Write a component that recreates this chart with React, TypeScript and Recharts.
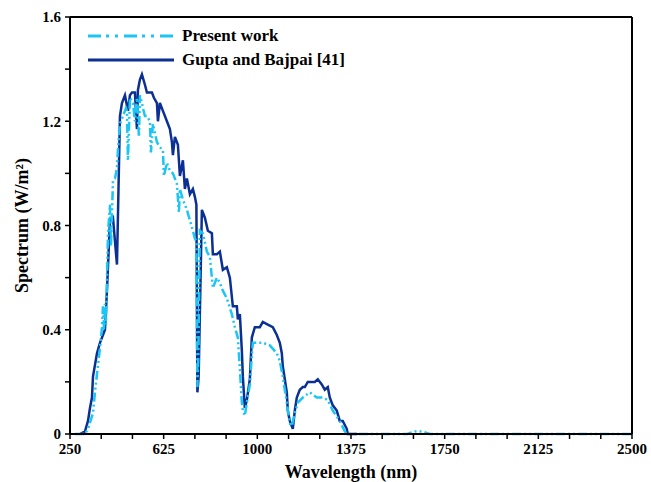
import React from 'react';
import {
  LineChart,
  Line,
  XAxis,
  YAxis,
  ReferenceLine,
} from 'recharts';

// wavelength (nm) / spectrum (W/m2)
const guptaNm = [
  290, 310, 322, 330, 338, 342, 358, 370, 390, 398, 410, 422, 430, 438, 442, 450,
  458, 470, 482, 490, 498, 510, 518, 522, 530, 538, 550, 558, 578, 586, 598, 602,
  610, 622, 638, 650, 658, 662, 670, 682, 690, 702, 710, 718, 730, 742, 750, 756,
  760, 765, 778, 790, 802, 818, 822, 838, 850, 862, 878, 890, 902, 918, 922, 930,
  938, 942, 950, 958, 970, 978, 990, 1002, 1010, 1022, 1042, 1062, 1078, 1090,
  1098, 1102, 1118, 1122, 1130, 1142, 1150, 1158, 1170, 1182, 1190, 1202, 1218,
  1230, 1242, 1258, 1270, 1282, 1290, 1302, 1318, 1330, 1342, 1358, 1362, 1400,
];
const guptaVal = [
  0, 0.01, 0.05, 0.1, 0.14, 0.22, 0.31, 0.35, 0.4, 0.55, 0.82, 0.83, 0.74, 0.65, 0.84, 1.22,
  1.27, 1.3, 1.24, 1.3, 1.31, 1.31, 1.17, 1.32, 1.36, 1.38, 1.34, 1.31, 1.31, 1.29, 1.27, 1.2,
  1.27, 1.24, 1.2, 1.17, 1.12, 1.07, 1.14, 1.11, 0.99, 1.05, 0.94, 0.98, 0.92, 0.94, 0.91, 0.88,
  0.16, 0.22, 0.86, 0.83, 0.78, 0.77, 0.69, 0.69, 0.7, 0.63, 0.64, 0.6, 0.49, 0.49, 0.44, 0.46,
  0.32, 0.22, 0.1, 0.13, 0.21, 0.37, 0.41, 0.41, 0.41, 0.43, 0.42, 0.41, 0.38, 0.35,
  0.31, 0.26, 0.16, 0.09, 0.05, 0.02, 0.09, 0.14, 0.17, 0.18, 0.18, 0.2, 0.2,
  0.2, 0.21, 0.19, 0.17, 0.18, 0.14, 0.11, 0.09, 0.05, 0.05, 0.02, 0, 0,
];

const presentNm = [
  270, 310, 322, 342, 350, 358, 370, 378, 382, 386, 390, 394, 398, 402, 410, 414,
  422, 430, 438, 442, 450, 462, 474, 478, 482, 490, 502, 510, 518, 526, 530, 538,
  542, 550, 558, 570, 574, 582, 598, 610, 622, 626, 638, 650, 662, 678, 686, 690,
  702, 718, 730, 742, 750, 756, 760, 764, 770, 782, 798, 810, 822, 838, 850, 862,
  878, 898, 910, 922, 930, 938, 942, 950, 958, 970, 978, 982, 998, 1022, 1050, 1078,
  1090, 1102, 1118, 1130, 1138, 1150, 1162, 1182, 1210, 1238, 1262, 1282, 1302, 1330,
  1350, 1360, 1450, 1600, 1630, 1660, 1690, 1800, 2000, 2200, 2500,
];
const presentVal = [
  0, 0, 0.02, 0.08, 0.16, 0.23, 0.33, 0.41, 0.49, 0.4, 0.5, 0.42, 0.59, 0.77, 0.88, 0.72,
  0.97, 0.98, 1.02, 1.09, 1.19, 1.22, 1.25, 1.24, 1.05, 1.29, 1.27, 1.2, 1.29, 1.14, 1.3, 1.27,
  1.25, 1.22, 1.22, 1.2, 1.08, 1.19, 1.12, 1.1, 1.09, 0.99, 1.04, 1.01, 1.0, 0.96, 0.85, 0.94,
  0.9, 0.86, 0.82, 0.78, 0.75, 0.74, 0.18, 0.3, 0.78, 0.77, 0.7, 0.68, 0.56, 0.6, 0.58, 0.55,
  0.52, 0.46, 0.41, 0.37, 0.25, 0.12, 0.09, 0.07, 0.12, 0.19, 0.3, 0.35, 0.35, 0.35, 0.34, 0.31,
  0.28, 0.22, 0.12, 0.04, 0.03, 0.08, 0.12, 0.14, 0.16, 0.14, 0.14, 0.13, 0.09, 0.05,
  0.01, 0, 0, 0, 0.01, 0.01, 0, 0, 0, 0, 0,
];

const xTicks = [250, 375, 500, 625, 750, 875, 1000, 1125, 1250, 1375, 1500, 1625, 1750, 1875, 2000, 2125, 2250, 2375, 2500];
const yTicks = [0, 0.2, 0.4, 0.6, 0.8, 1.0, 1.2, 1.4, 1.6];

const gupta = guptaNm.map((nm, i) => ({ nm, v: guptaVal[i] }));
const present = presentNm.map((nm, i) => ({ nm, v: presentVal[i] }));

const font = '"Liberation Serif", "Times New Roman", serif';
const cyan = '#1cc6f4';
const navy = '#0b2f92';
const dash = '9 3 2 3 2 3';

const tickStyle = { fontFamily: font, fontWeight: 700, fontSize: 15, fill: '#000' };

export default function App() {
  return (
    <div style={{ position: 'absolute', left: 0, top: 0, width: 651, height: 482, background: '#fff' }}>
      <LineChart width={651} height={482} margin={{ top: 17, right: 19, bottom: 0, left: 0 }}>
        <XAxis
          dataKey="nm"
          type="number"
          domain={[250, 2500]}
          ticks={xTicks}
          interval={0}
          tickFormatter={(v: number) => ((v - 250) % 375 === 0 ? String(v) : '')}
          tick={tickStyle}
          tickSize={5}
          tickMargin={4}
          height={48}
          axisLine={{ stroke: '#000', strokeWidth: 2 }}
          tickLine={{ stroke: '#000', strokeWidth: 1.5 }}
          label={{
            value: 'Wavelength (nm)',
            position: 'insideBottom',
            offset: 4,
            style: { fontFamily: font, fontWeight: 700, fontSize: 18, fill: '#000' },
          }}
        />
        <YAxis
          dataKey="v"
          type="number"
          domain={[0, 1.6]}
          ticks={yTicks}
          interval={0}
          tickFormatter={(v: number) => {
            const k = Math.round(v * 5);
            if (k % 2 !== 0) return '';
            return k === 0 ? '0' : v.toFixed(1);
          }}
          tick={tickStyle}
          tickSize={5}
          tickMargin={4}
          width={70}
          axisLine={{ stroke: '#000', strokeWidth: 2 }}
          tickLine={{ stroke: '#000', strokeWidth: 1.5 }}
          label={{
            value: 'Spectrum (W/m²)',
            angle: -90,
            position: 'center',
            dx: -13,
            style: { fontFamily: font, fontWeight: 700, fontSize: 18, fill: '#000' },
          }}
        />
        <ReferenceLine y={1.6} stroke="#000" strokeWidth={2} />
        <ReferenceLine x={2500} stroke="#000" strokeWidth={2} />
        <Line
          data={gupta}
          dataKey="v"
          type="linear"
          stroke={navy}
          strokeWidth={2.5}
          dot={false}
          isAnimationActive={false}
        />
        <Line
          data={present}
          dataKey="v"
          type="linear"
          stroke={cyan}
          strokeWidth={2.5}
          strokeDasharray={dash}
          dot={false}
          isAnimationActive={false}
        />
      </LineChart>
      <div style={{ position: 'absolute', left: 88, top: 24, fontFamily: font, fontWeight: 700, fontSize: 17, color: '#000' }}>
        <div style={{ display: 'flex', alignItems: 'center', height: 24 }}>
          <svg width={86} height={6} style={{ marginRight: 8 }}>
            <line x1={0} y1={3} x2={86} y2={3} stroke={cyan} strokeWidth={3} strokeDasharray="13 5 3 6 3 6" />
          </svg>
          <span>Present work</span>
        </div>
        <div style={{ display: 'flex', alignItems: 'center', height: 24 }}>
          <svg width={86} height={6} style={{ marginRight: 8 }}>
            <line x1={0} y1={3} x2={86} y2={3} stroke={navy} strokeWidth={3} />
          </svg>
          <span>Gupta and Bajpai [41]</span>
        </div>
      </div>
    </div>
  );
}
